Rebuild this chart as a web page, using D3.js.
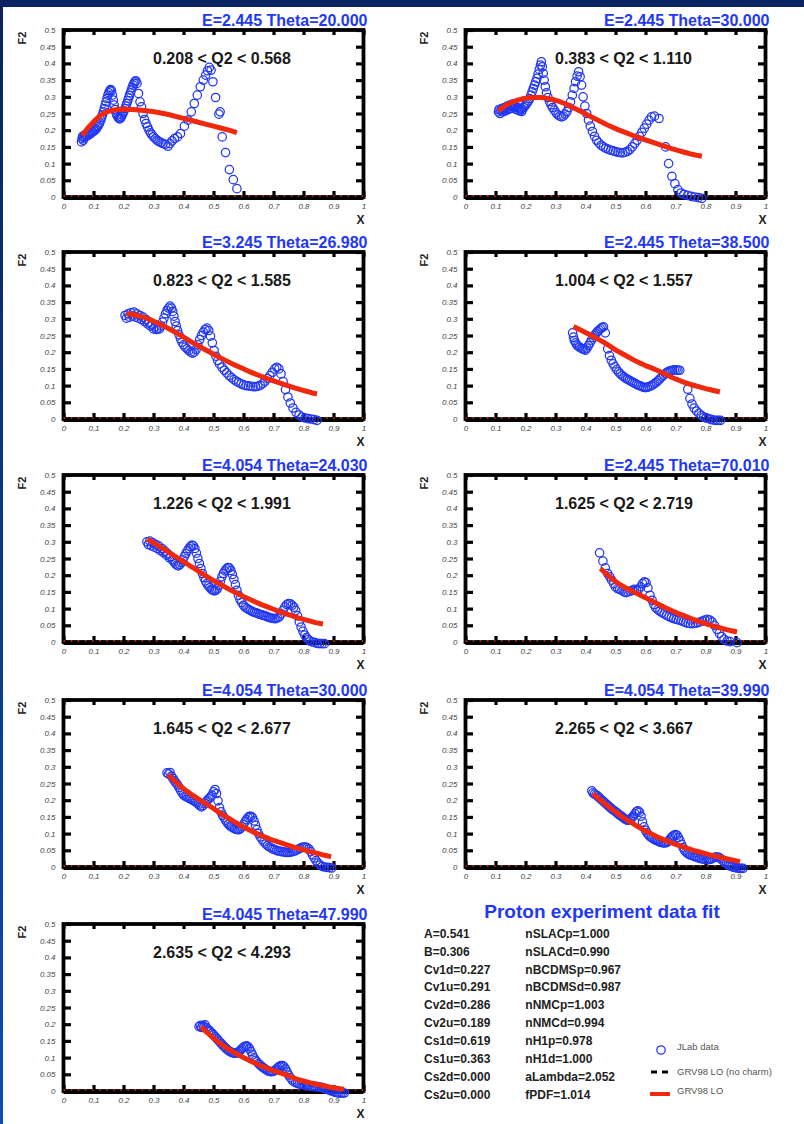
<!DOCTYPE html>
<html><head><meta charset="utf-8">
<script src="https://cdn.jsdelivr.net/npm/d3@7"></script>
<style>body{margin:0;background:#fff;overflow:hidden}</style>
</head><body>
<svg id="chart" width="804" height="1124"></svg>
<script>
// ---------- chart values ----------
const panelTitles = ["E=2.445 Theta=20.000","E=2.445 Theta=30.000","E=3.245 Theta=26.980","E=2.445 Theta=38.500","E=4.054 Theta=24.030","E=2.445 Theta=70.010","E=4.054 Theta=30.000","E=4.054 Theta=39.990","E=4.045 Theta=47.990"];
const q2Labels = ["0.208 < Q2 < 0.568","0.383 < Q2 < 1.110","0.823 < Q2 < 1.585","1.004 < Q2 < 1.557","1.226 < Q2 < 1.991","1.625 < Q2 < 2.719","1.645 < Q2 < 2.677","2.265 < Q2 < 3.667","2.635 < Q2 < 4.293"];
const xTicks = [0,0.1,0.2,0.3,0.4,0.5,0.6,0.7,0.8,0.9,1];
const xTickLabels = ["0","0.1","0.2","0.3","0.4","0.5","0.6","0.7","0.8","0.9","1"];
const yTicks = [0,0.05,0.1,0.15,0.2,0.25,0.3,0.35,0.4,0.45,0.5];
const yTickLabels = ["0","0.05","0.1","0.15","0.2","0.25","0.3","0.35","0.4","0.45","0.5"];
const noCharmLevel = [[0,0],[1,0]];

const jlab1 = [[0.060,0.165],[0.062,0.175],[0.064,0.182],[0.066,0.170],[0.068,0.178],[0.070,0.185],[0.073,0.180],[0.076,0.188],[0.079,0.183],[0.082,0.190],[0.085,0.186],[0.088,0.193],[0.091,0.190],[0.094,0.197],[0.097,0.195],[0.100,0.200],[0.103,0.198],[0.106,0.205],[0.109,0.203],[0.112,0.210],[0.115,0.212],[0.118,0.218],[0.121,0.222],[0.124,0.230],[0.127,0.238],[0.130,0.246],[0.133,0.255],[0.136,0.265],[0.139,0.275],[0.142,0.285],[0.145,0.295],[0.148,0.305],[0.151,0.312],[0.154,0.318],[0.157,0.322],[0.160,0.318],[0.163,0.305],[0.166,0.290],[0.169,0.275],[0.172,0.262],[0.175,0.252],[0.178,0.245],[0.181,0.240],[0.184,0.236],[0.187,0.234],[0.190,0.236],[0.193,0.240],[0.196,0.246],[0.199,0.252],[0.202,0.258],[0.205,0.265],[0.208,0.272],[0.211,0.280],[0.214,0.288],[0.217,0.296],[0.220,0.304],[0.223,0.312],[0.226,0.320],[0.229,0.328],[0.232,0.335],[0.235,0.340],[0.238,0.345],[0.241,0.348],[0.245,0.340],[0.250,0.310],[0.255,0.285],[0.260,0.270],[0.265,0.250],[0.270,0.232],[0.275,0.220],[0.280,0.210],[0.285,0.200],[0.290,0.192],[0.295,0.186],[0.300,0.180],[0.306,0.175],[0.312,0.170],[0.318,0.166],[0.325,0.163],[0.332,0.160],[0.340,0.158],[0.348,0.152],[0.355,0.160],[0.362,0.168],[0.370,0.175],[0.380,0.180],[0.390,0.190],[0.403,0.212],[0.415,0.230],[0.426,0.255],[0.436,0.280],[0.446,0.305],[0.456,0.330],[0.466,0.350],[0.474,0.365],[0.480,0.378],[0.486,0.388],[0.492,0.380],[0.498,0.345],[0.507,0.298],[0.518,0.248],[0.522,0.255],[0.529,0.180],[0.540,0.133],[0.553,0.082],[0.566,0.052],[0.578,0.025]];
const jlab2 = [[0.110,0.255],[0.112,0.262],[0.115,0.250],[0.118,0.258],[0.121,0.265],[0.124,0.255],[0.127,0.262],[0.130,0.268],[0.133,0.258],[0.136,0.265],[0.139,0.272],[0.142,0.262],[0.145,0.270],[0.148,0.275],[0.151,0.265],[0.154,0.272],[0.157,0.278],[0.160,0.268],[0.163,0.275],[0.166,0.270],[0.169,0.262],[0.172,0.268],[0.175,0.260],[0.178,0.266],[0.181,0.258],[0.184,0.264],[0.187,0.256],[0.190,0.262],[0.194,0.268],[0.198,0.272],[0.202,0.278],[0.206,0.282],[0.210,0.288],[0.214,0.295],[0.218,0.305],[0.222,0.315],[0.226,0.325],[0.230,0.335],[0.234,0.345],[0.238,0.355],[0.242,0.368],[0.246,0.382],[0.250,0.395],[0.253,0.405],[0.256,0.390],[0.259,0.370],[0.262,0.350],[0.266,0.330],[0.270,0.312],[0.275,0.298],[0.280,0.286],[0.285,0.276],[0.290,0.268],[0.296,0.260],[0.302,0.252],[0.308,0.246],[0.314,0.242],[0.320,0.240],[0.326,0.242],[0.332,0.248],[0.338,0.256],[0.344,0.268],[0.350,0.285],[0.356,0.305],[0.362,0.325],[0.367,0.345],[0.372,0.362],[0.377,0.375],[0.382,0.360],[0.387,0.335],[0.392,0.300],[0.398,0.272],[0.404,0.250],[0.410,0.230],[0.416,0.212],[0.423,0.196],[0.430,0.182],[0.437,0.170],[0.444,0.162],[0.452,0.155],[0.460,0.150],[0.468,0.146],[0.476,0.143],[0.484,0.140],[0.492,0.138],[0.500,0.136],[0.508,0.134],[0.516,0.133],[0.524,0.132],[0.532,0.134],[0.540,0.137],[0.548,0.142],[0.556,0.150],[0.564,0.160],[0.572,0.170],[0.580,0.182],[0.588,0.194],[0.596,0.206],[0.604,0.218],[0.612,0.230],[0.620,0.240],[0.630,0.242],[0.645,0.235],[0.667,0.150],[0.677,0.100],[0.688,0.062],[0.698,0.040],[0.708,0.022],[0.718,0.012],[0.728,0.008],[0.740,0.005],[0.752,0.002],[0.764,0.000],[0.776,-0.002],[0.788,-0.004]];
const jlab3 = [[0.205,0.310],[0.210,0.302],[0.215,0.315],[0.220,0.305],[0.225,0.318],[0.230,0.308],[0.235,0.320],[0.240,0.305],[0.245,0.315],[0.250,0.302],[0.255,0.310],[0.260,0.298],[0.265,0.305],[0.270,0.292],[0.275,0.298],[0.280,0.285],[0.285,0.290],[0.290,0.278],[0.295,0.282],[0.300,0.270],[0.305,0.275],[0.310,0.268],[0.315,0.272],[0.320,0.270],[0.325,0.278],[0.330,0.290],[0.335,0.302],[0.340,0.315],[0.345,0.325],[0.350,0.332],[0.355,0.338],[0.360,0.332],[0.364,0.322],[0.368,0.308],[0.372,0.292],[0.376,0.278],[0.380,0.265],[0.385,0.252],[0.390,0.240],[0.395,0.230],[0.400,0.222],[0.406,0.215],[0.412,0.210],[0.418,0.205],[0.424,0.200],[0.430,0.197],[0.436,0.200],[0.442,0.208],[0.448,0.222],[0.454,0.238],[0.460,0.250],[0.466,0.260],[0.472,0.268],[0.478,0.272],[0.484,0.265],[0.490,0.248],[0.496,0.228],[0.502,0.205],[0.508,0.188],[0.514,0.175],[0.520,0.165],[0.528,0.155],[0.536,0.146],[0.544,0.138],[0.552,0.130],[0.560,0.124],[0.568,0.118],[0.576,0.113],[0.584,0.109],[0.592,0.105],[0.600,0.102],[0.608,0.100],[0.616,0.099],[0.624,0.098],[0.632,0.097],[0.640,0.097],[0.648,0.098],[0.656,0.101],[0.664,0.106],[0.672,0.113],[0.680,0.121],[0.688,0.130],[0.696,0.140],[0.704,0.150],[0.711,0.155],[0.718,0.150],[0.725,0.135],[0.732,0.112],[0.740,0.088],[0.748,0.066],[0.756,0.048],[0.765,0.033],[0.775,0.020],[0.785,0.012],[0.795,0.006],[0.805,0.003],[0.815,0.001],[0.825,0.000],[0.835,-0.002],[0.845,-0.004]];
const jlab4 = [[0.357,0.258],[0.360,0.245],[0.363,0.235],[0.367,0.228],[0.371,0.222],[0.375,0.218],[0.380,0.215],[0.385,0.212],[0.390,0.210],[0.395,0.208],[0.400,0.206],[0.405,0.212],[0.410,0.220],[0.415,0.228],[0.420,0.236],[0.425,0.244],[0.430,0.250],[0.435,0.256],[0.440,0.262],[0.445,0.266],[0.450,0.270],[0.455,0.274],[0.460,0.276],[0.466,0.258],[0.474,0.210],[0.480,0.190],[0.486,0.176],[0.492,0.165],[0.498,0.156],[0.504,0.148],[0.510,0.141],[0.516,0.135],[0.522,0.130],[0.528,0.126],[0.534,0.122],[0.540,0.119],[0.546,0.116],[0.552,0.113],[0.558,0.110],[0.564,0.107],[0.570,0.104],[0.576,0.101],[0.582,0.099],[0.588,0.097],[0.594,0.095],[0.600,0.094],[0.606,0.095],[0.612,0.097],[0.618,0.099],[0.624,0.102],[0.630,0.106],[0.636,0.110],[0.642,0.115],[0.648,0.120],[0.654,0.126],[0.660,0.131],[0.666,0.136],[0.672,0.140],[0.678,0.143],[0.684,0.145],[0.690,0.146],[0.696,0.147],[0.702,0.147],[0.708,0.146],[0.714,0.146],[0.741,0.089],[0.748,0.062],[0.755,0.045],[0.762,0.033],[0.770,0.024],[0.778,0.017],[0.786,0.011],[0.794,0.006],[0.802,0.003],[0.810,0.001],[0.818,-0.001],[0.826,-0.003],[0.834,-0.004],[0.842,-0.004],[0.850,-0.004]];
const jlab5 = [[0.278,0.300],[0.283,0.292],[0.288,0.302],[0.293,0.288],[0.298,0.297],[0.303,0.284],[0.308,0.292],[0.313,0.280],[0.318,0.287],[0.323,0.274],[0.328,0.280],[0.333,0.268],[0.338,0.272],[0.343,0.260],[0.348,0.264],[0.353,0.252],[0.358,0.256],[0.363,0.246],[0.368,0.240],[0.373,0.234],[0.378,0.230],[0.383,0.228],[0.388,0.232],[0.393,0.238],[0.398,0.246],[0.403,0.256],[0.408,0.265],[0.413,0.273],[0.418,0.280],[0.423,0.286],[0.428,0.290],[0.433,0.288],[0.438,0.280],[0.443,0.266],[0.448,0.250],[0.453,0.235],[0.458,0.220],[0.463,0.205],[0.468,0.193],[0.473,0.183],[0.478,0.175],[0.483,0.168],[0.488,0.163],[0.493,0.158],[0.498,0.155],[0.503,0.153],[0.508,0.155],[0.513,0.160],[0.518,0.170],[0.523,0.182],[0.528,0.195],[0.533,0.205],[0.538,0.213],[0.543,0.219],[0.548,0.223],[0.553,0.222],[0.558,0.214],[0.563,0.202],[0.568,0.188],[0.573,0.172],[0.578,0.155],[0.583,0.140],[0.588,0.128],[0.594,0.118],[0.600,0.110],[0.606,0.104],[0.612,0.100],[0.618,0.097],[0.624,0.094],[0.630,0.091],[0.636,0.089],[0.642,0.087],[0.648,0.085],[0.654,0.083],[0.660,0.081],[0.666,0.080],[0.672,0.078],[0.678,0.076],[0.684,0.074],[0.690,0.072],[0.696,0.071],[0.702,0.070],[0.708,0.070],[0.714,0.072],[0.720,0.076],[0.726,0.084],[0.732,0.095],[0.738,0.105],[0.744,0.112],[0.750,0.115],[0.756,0.114],[0.762,0.110],[0.768,0.104],[0.774,0.094],[0.780,0.078],[0.786,0.060],[0.792,0.045],[0.798,0.032],[0.804,0.021],[0.810,0.013],[0.816,0.007],[0.822,0.003],[0.830,0.000],[0.838,-0.002],[0.846,-0.004],[0.854,-0.005],[0.862,-0.005],[0.870,-0.005]];
const jlab6 = [[0.447,0.267],[0.458,0.242],[0.466,0.222],[0.474,0.205],[0.481,0.195],[0.487,0.185],[0.494,0.175],[0.500,0.165],[0.507,0.160],[0.514,0.158],[0.521,0.155],[0.528,0.150],[0.535,0.148],[0.542,0.150],[0.549,0.152],[0.556,0.155],[0.563,0.158],[0.570,0.155],[0.577,0.158],[0.584,0.165],[0.590,0.175],[0.596,0.180],[0.602,0.178],[0.608,0.162],[0.615,0.140],[0.622,0.125],[0.628,0.112],[0.634,0.103],[0.641,0.097],[0.648,0.092],[0.655,0.088],[0.662,0.084],[0.670,0.080],[0.678,0.076],[0.686,0.073],[0.694,0.070],[0.702,0.068],[0.710,0.066],[0.718,0.064],[0.726,0.061],[0.734,0.058],[0.742,0.056],[0.750,0.055],[0.758,0.055],[0.766,0.056],[0.774,0.058],[0.782,0.060],[0.790,0.063],[0.798,0.066],[0.806,0.068],[0.814,0.066],[0.822,0.060],[0.830,0.050],[0.838,0.038],[0.846,0.026],[0.854,0.016],[0.862,0.008],[0.872,0.003],[0.882,0.001],[0.905,-0.002]];
const jlab7 = [[0.345,0.282],[0.350,0.278],[0.355,0.283],[0.360,0.272],[0.365,0.265],[0.370,0.258],[0.375,0.252],[0.380,0.246],[0.385,0.238],[0.390,0.230],[0.395,0.222],[0.400,0.216],[0.405,0.212],[0.410,0.210],[0.415,0.208],[0.420,0.205],[0.425,0.203],[0.430,0.200],[0.435,0.198],[0.440,0.195],[0.445,0.192],[0.450,0.188],[0.455,0.183],[0.460,0.180],[0.465,0.184],[0.470,0.190],[0.475,0.195],[0.480,0.200],[0.485,0.205],[0.490,0.210],[0.495,0.215],[0.500,0.225],[0.505,0.232],[0.510,0.220],[0.515,0.198],[0.520,0.178],[0.525,0.165],[0.530,0.155],[0.535,0.148],[0.540,0.140],[0.545,0.134],[0.550,0.128],[0.555,0.123],[0.560,0.120],[0.565,0.117],[0.570,0.115],[0.575,0.113],[0.580,0.112],[0.585,0.112],[0.590,0.115],[0.595,0.120],[0.600,0.127],[0.605,0.135],[0.610,0.142],[0.615,0.148],[0.620,0.152],[0.625,0.152],[0.630,0.148],[0.635,0.138],[0.640,0.125],[0.645,0.112],[0.650,0.100],[0.656,0.090],[0.662,0.082],[0.668,0.075],[0.674,0.069],[0.680,0.064],[0.686,0.060],[0.692,0.057],[0.698,0.054],[0.704,0.052],[0.710,0.050],[0.716,0.048],[0.722,0.047],[0.728,0.046],[0.734,0.045],[0.740,0.044],[0.746,0.044],[0.752,0.044],[0.758,0.045],[0.764,0.046],[0.770,0.048],[0.776,0.050],[0.782,0.053],[0.788,0.056],[0.794,0.058],[0.800,0.060],[0.806,0.060],[0.812,0.058],[0.818,0.054],[0.824,0.046],[0.830,0.036],[0.836,0.027],[0.842,0.019],[0.848,0.012],[0.855,0.006],[0.862,0.002],[0.870,0.000],[0.878,-0.001],[0.886,-0.002],[0.894,-0.003]];
const jlab8 = [[0.421,0.228],[0.425,0.222],[0.430,0.218],[0.435,0.215],[0.440,0.213],[0.445,0.208],[0.450,0.204],[0.455,0.200],[0.460,0.196],[0.465,0.192],[0.470,0.188],[0.475,0.184],[0.480,0.180],[0.485,0.176],[0.490,0.172],[0.495,0.169],[0.500,0.166],[0.505,0.162],[0.510,0.158],[0.515,0.155],[0.520,0.152],[0.525,0.148],[0.530,0.145],[0.535,0.142],[0.540,0.140],[0.545,0.141],[0.550,0.144],[0.555,0.148],[0.560,0.153],[0.565,0.160],[0.570,0.166],[0.575,0.168],[0.580,0.164],[0.585,0.152],[0.590,0.135],[0.595,0.120],[0.600,0.110],[0.605,0.102],[0.610,0.096],[0.615,0.091],[0.620,0.088],[0.625,0.085],[0.630,0.082],[0.635,0.080],[0.640,0.078],[0.645,0.076],[0.650,0.074],[0.655,0.073],[0.660,0.072],[0.665,0.072],[0.670,0.073],[0.675,0.076],[0.680,0.081],[0.685,0.087],[0.690,0.092],[0.695,0.095],[0.700,0.097],[0.705,0.095],[0.710,0.088],[0.715,0.078],[0.720,0.068],[0.725,0.058],[0.730,0.050],[0.735,0.045],[0.740,0.041],[0.745,0.038],[0.750,0.036],[0.756,0.034],[0.762,0.032],[0.768,0.030],[0.774,0.028],[0.780,0.026],[0.786,0.025],[0.792,0.024],[0.798,0.023],[0.804,0.022],[0.810,0.022],[0.816,0.023],[0.822,0.025],[0.828,0.028],[0.834,0.030],[0.840,0.030],[0.846,0.028],[0.852,0.024],[0.858,0.019],[0.864,0.014],[0.870,0.010],[0.876,0.006],[0.882,0.003],[0.888,0.001],[0.894,-0.001],[0.900,-0.002],[0.906,-0.003],[0.912,-0.004],[0.918,-0.004],[0.925,-0.004]];
const jlab9 = [[0.452,0.193],[0.456,0.196],[0.460,0.190],[0.464,0.197],[0.468,0.192],[0.472,0.198],[0.476,0.190],[0.480,0.186],[0.485,0.182],[0.490,0.178],[0.495,0.173],[0.500,0.168],[0.505,0.163],[0.510,0.158],[0.515,0.153],[0.520,0.148],[0.525,0.143],[0.530,0.138],[0.535,0.133],[0.540,0.129],[0.545,0.125],[0.550,0.121],[0.555,0.118],[0.560,0.116],[0.565,0.114],[0.570,0.113],[0.575,0.113],[0.580,0.115],[0.585,0.118],[0.590,0.122],[0.595,0.127],[0.600,0.131],[0.605,0.134],[0.610,0.135],[0.615,0.133],[0.620,0.127],[0.625,0.118],[0.630,0.108],[0.635,0.099],[0.640,0.092],[0.645,0.087],[0.650,0.082],[0.655,0.078],[0.660,0.074],[0.665,0.070],[0.670,0.067],[0.675,0.064],[0.680,0.061],[0.685,0.059],[0.690,0.058],[0.695,0.058],[0.700,0.059],[0.705,0.062],[0.710,0.066],[0.715,0.070],[0.720,0.074],[0.725,0.076],[0.730,0.076],[0.735,0.073],[0.740,0.066],[0.745,0.057],[0.750,0.048],[0.756,0.040],[0.762,0.033],[0.768,0.028],[0.774,0.025],[0.780,0.023],[0.786,0.021],[0.792,0.020],[0.798,0.019],[0.804,0.018],[0.810,0.017],[0.816,0.016],[0.822,0.015],[0.828,0.014],[0.834,0.014],[0.840,0.013],[0.846,0.013],[0.852,0.012],[0.858,0.011],[0.864,0.010],[0.870,0.008],[0.876,0.006],[0.882,0.004],[0.888,0.002],[0.894,0.000],[0.900,-0.002],[0.906,-0.004],[0.912,-0.005],[0.918,-0.006],[0.924,-0.006],[0.930,-0.006],[0.936,-0.006]];

const grv1 = [[0.062,0.184],[0.08,0.205],[0.10,0.225],[0.12,0.242],[0.14,0.253],[0.16,0.259],[0.18,0.262],[0.20,0.263],[0.23,0.262],[0.26,0.260],[0.29,0.257],[0.32,0.252],[0.35,0.247],[0.38,0.240],[0.41,0.233],[0.44,0.226],[0.47,0.219],[0.50,0.212],[0.53,0.205],[0.56,0.198],[0.578,0.193]];
const grv2 = [[0.110,0.258],[0.13,0.272],[0.15,0.282],[0.17,0.289],[0.19,0.294],[0.21,0.297],[0.23,0.298],[0.25,0.298],[0.27,0.296],[0.29,0.292],[0.31,0.287],[0.33,0.280],[0.35,0.272],[0.37,0.263],[0.39,0.254],[0.41,0.244],[0.43,0.235],[0.45,0.226],[0.47,0.217],[0.49,0.209],[0.51,0.201],[0.53,0.194],[0.55,0.187],[0.57,0.180],[0.59,0.174],[0.61,0.168],[0.63,0.162],[0.65,0.156],[0.67,0.150],[0.69,0.144],[0.71,0.139],[0.73,0.134],[0.75,0.129],[0.77,0.125],[0.788,0.122]];
const grv3 = [[0.21,0.316],[0.23,0.313],[0.25,0.309],[0.27,0.304],[0.29,0.297],[0.31,0.289],[0.33,0.280],[0.35,0.271],[0.37,0.261],[0.39,0.251],[0.41,0.240],[0.43,0.229],[0.45,0.219],[0.47,0.209],[0.49,0.199],[0.51,0.189],[0.53,0.180],[0.55,0.171],[0.57,0.162],[0.59,0.154],[0.61,0.146],[0.63,0.138],[0.65,0.131],[0.67,0.124],[0.69,0.117],[0.71,0.111],[0.73,0.105],[0.75,0.099],[0.77,0.093],[0.79,0.088],[0.81,0.083],[0.83,0.078],[0.845,0.075]];
const grv4 = [[0.36,0.277],[0.38,0.268],[0.40,0.259],[0.42,0.250],[0.44,0.240],[0.46,0.230],[0.48,0.219],[0.50,0.207],[0.52,0.197],[0.54,0.187],[0.56,0.177],[0.58,0.168],[0.60,0.160],[0.62,0.153],[0.64,0.145],[0.66,0.137],[0.68,0.128],[0.70,0.120],[0.72,0.113],[0.74,0.107],[0.76,0.101],[0.78,0.096],[0.80,0.091],[0.82,0.087],[0.848,0.081]];
const grv5 = [[0.28,0.308],[0.30,0.297],[0.32,0.286],[0.34,0.275],[0.36,0.263],[0.38,0.252],[0.40,0.241],[0.42,0.229],[0.44,0.218],[0.46,0.206],[0.48,0.195],[0.50,0.184],[0.52,0.174],[0.54,0.164],[0.56,0.154],[0.58,0.145],[0.60,0.136],[0.62,0.128],[0.64,0.120],[0.66,0.112],[0.68,0.105],[0.70,0.098],[0.72,0.091],[0.74,0.085],[0.76,0.079],[0.78,0.073],[0.80,0.068],[0.82,0.063],[0.84,0.058],[0.865,0.054]];
const grv6 = [[0.45,0.220],[0.47,0.203],[0.49,0.188],[0.51,0.175],[0.53,0.164],[0.55,0.155],[0.57,0.146],[0.59,0.137],[0.61,0.128],[0.63,0.119],[0.65,0.110],[0.67,0.101],[0.69,0.093],[0.71,0.085],[0.73,0.078],[0.75,0.071],[0.77,0.064],[0.79,0.058],[0.81,0.052],[0.83,0.047],[0.85,0.042],[0.87,0.037],[0.89,0.033],[0.905,0.030]];
const grv7 = [[0.348,0.277],[0.37,0.258],[0.39,0.242],[0.41,0.228],[0.43,0.215],[0.45,0.203],[0.47,0.192],[0.49,0.181],[0.51,0.169],[0.53,0.157],[0.55,0.146],[0.57,0.135],[0.59,0.125],[0.61,0.115],[0.63,0.106],[0.65,0.098],[0.67,0.090],[0.69,0.083],[0.71,0.077],[0.73,0.071],[0.75,0.065],[0.77,0.059],[0.79,0.054],[0.81,0.049],[0.83,0.044],[0.85,0.040],[0.87,0.035],[0.892,0.031]];
const grv8 = [[0.425,0.220],[0.44,0.208],[0.46,0.193],[0.48,0.179],[0.50,0.165],[0.52,0.152],[0.54,0.140],[0.56,0.129],[0.58,0.118],[0.60,0.108],[0.62,0.099],[0.64,0.090],[0.66,0.082],[0.68,0.075],[0.70,0.068],[0.72,0.062],[0.74,0.056],[0.76,0.050],[0.78,0.045],[0.80,0.040],[0.82,0.035],[0.84,0.031],[0.86,0.027],[0.88,0.023],[0.90,0.019],[0.915,0.016]];
const grv9 = [[0.458,0.192],[0.48,0.174],[0.50,0.158],[0.52,0.144],[0.54,0.131],[0.56,0.120],[0.58,0.110],[0.60,0.100],[0.62,0.091],[0.64,0.083],[0.66,0.075],[0.68,0.068],[0.70,0.061],[0.72,0.055],[0.74,0.049],[0.76,0.042],[0.78,0.035],[0.80,0.030],[0.82,0.025],[0.84,0.021],[0.86,0.017],[0.88,0.013],[0.90,0.010],[0.92,0.007],[0.935,0.005]];

const paramNames = ["A","B","Cv1d","Cv1u","Cv2d","Cv2u","Cs1d","Cs1u","Cs2d","Cs2u"];
const paramValues = ["0.541","0.306","0.227","0.291","0.286","0.189","0.619","0.363","0.000","0.000"];
const normNames = ["nSLACp","nSLACd","nBCDMSp","nBCDMSd","nNMCp","nNMCd","nH1p","nH1d","aLambda","fPDF"];
const normValues = ["1.000","0.990","0.967","0.987","1.003","0.994","0.978","1.000","2.052","1.014"];
const legendLabels = ["JLab data","GRV98 LO (no charm)","GRV98 LO"];
const fitTitle = "Proton experiment data fit";

const jlabSets = [jlab1,jlab2,jlab3,jlab4,jlab5,jlab6,jlab7,jlab8,jlab9];
const grvSets = [grv1,grv2,grv3,grv4,grv5,grv6,grv7,grv8,grv9];

// ---------- layout / style ----------
const FONT = "'Liberation Sans', Arial, Helvetica, sans-serif";
const BLUE = "#2238f5";
const RED = "#f0280c";
const colX = [63.5, 465.5];
const rowTop = [30, 252, 475, 700, 924];
const PW = 300, PH = 167;

const svg = d3.select("#chart");
const defs = svg.append("defs");
const grad = defs.append("linearGradient").attr("id","lg").attr("x1",0).attr("y1",0).attr("x2",0).attr("y2",1);
grad.append("stop").attr("offset","0%").attr("stop-color","#0b2360");
grad.append("stop").attr("offset","100%").attr("stop-color","#0a4db4");
svg.append("rect").attr("x",0).attr("y",0).attr("width",804).attr("height",1124).attr("fill","#fff");
svg.append("rect").attr("x",0).attr("y",0).attr("width",3).attr("height",1124).attr("fill","url(#lg)");
svg.append("rect").attr("x",0).attr("y",0).attr("width",804).attr("height",7).attr("fill","#0b2360");

function panel(i){
  const x0 = colX[i % 2], top = rowTop[Math.floor(i / 2)];
  const x = d3.scaleLinear().domain([0,1]).range([x0, x0 + PW]);
  const y = d3.scaleLinear().domain([0,0.5]).range([top + PH, top]);
  const g = svg.append("g");

  const styleAxis = sel => {
    sel.select(".domain").remove();
    sel.selectAll(".tick line").attr("stroke","#000").attr("stroke-width",3.2);
    sel.selectAll(".tick text").attr("fill","#444").attr("font-style","italic")
      .attr("font-family",FONT).attr("font-size",8);
  };
  g.append("g").attr("transform",`translate(${x0},0)`)
    .call(d3.axisLeft(y).tickValues(yTicks).tickSize(-7.5).tickPadding(8).tickFormat((d,k)=>yTickLabels[k]))
    .call(styleAxis);
  g.append("g").attr("transform",`translate(${x0+PW},0)`)
    .call(d3.axisRight(y).tickValues(yTicks).tickSize(-7.5).tickFormat(""))
    .call(styleAxis);
  g.append("g").attr("transform",`translate(0,${top})`)
    .call(d3.axisTop(x).tickValues(xTicks).tickSize(-5).tickFormat(""))
    .call(styleAxis);
  g.append("g").attr("transform",`translate(0,${top+PH})`)
    .call(d3.axisBottom(x).tickValues(xTicks).tickSize(-6).tickPadding(6).tickFormat((d,k)=>xTickLabels[k]))
    .call(styleAxis);

  g.append("rect").attr("x",x0).attr("y",top).attr("width",PW).attr("height",PH)
    .attr("fill","none").attr("stroke","#000").attr("stroke-width",3.8);

  const line = d3.line().x(d=>x(d[0])).y(d=>y(d[1]));
  g.append("path").datum(noCharmLevel).attr("d",line).attr("transform","translate(0,1.5)")
    .attr("stroke","#000").attr("stroke-width",3).attr("fill","none");
  g.append("path").datum(noCharmLevel).attr("d",line).attr("transform","translate(0,-1)")
    .attr("stroke",RED).attr("stroke-width",1.6).attr("stroke-dasharray","1.6,5.5").attr("fill","none");

  g.append("g").selectAll("circle").data(jlabSets[i]).join("circle")
    .attr("cx",d=>x(d[0])).attr("cy",d=>y(d[1])).attr("r",4.2)
    .attr("fill","none").attr("stroke",BLUE).attr("stroke-width",1.25);

  g.append("path").datum(grvSets[i]).attr("d",line)
    .attr("stroke",RED).attr("stroke-width",5).attr("fill","none").attr("stroke-linejoin","round");

  g.append("text").attr("x",x0+304).attr("y",top-4).attr("text-anchor","end")
    .attr("font-family",FONT).attr("font-weight","bold").attr("font-size",16).attr("fill",BLUE)
    .text(panelTitles[i]);
  g.append("text").attr("x",x0+89.5).attr("y",top+34)
    .attr("font-family",FONT).attr("font-weight","bold").attr("font-size",16).attr("fill","#1a1a1a")
    .text(q2Labels[i]);
  g.append("text").attr("transform",`translate(${x0-37.5},${top+8}) rotate(-90)`).attr("text-anchor","middle")
    .attr("font-family",FONT).attr("font-weight","bold").attr("font-size",11).attr("fill","#222")
    .text("F2");
  g.append("text").attr("x",x0+297).attr("y",top+194).attr("text-anchor","middle")
    .attr("font-family",FONT).attr("font-weight","bold").attr("font-size",12).attr("fill","#222")
    .text("X");
}
for (let i = 0; i < 9; i++) panel(i);

svg.append("text").attr("x",602).attr("y",918).attr("text-anchor","middle")
  .attr("font-family",FONT).attr("font-weight","bold").attr("font-size",19).attr("fill",BLUE)
  .text(fitTitle);
const pg = svg.append("g").attr("font-family",FONT).attr("font-weight","bold").attr("font-size",12).attr("fill","#222");
paramNames.forEach((n,k)=>{
  pg.append("text").attr("x",424).attr("y",937.7 + 17.9*k).text(n + "=" + paramValues[k]);
  pg.append("text").attr("x",525.3).attr("y",937.7 + 17.9*k).text(normNames[k] + "=" + normValues[k]);
});

const lg = svg.append("g");
lg.append("circle").attr("cx",661).attr("cy",1050).attr("r",4.2).attr("fill","none").attr("stroke",BLUE).attr("stroke-width",1.25);
lg.append("line").attr("x1",651).attr("x2",671).attr("y1",1072).attr("y2",1072)
  .attr("stroke","#000").attr("stroke-width",3).attr("stroke-dasharray","6,5");
lg.append("line").attr("x1",650).attr("x2",670).attr("y1",1094).attr("y2",1094)
  .attr("stroke",RED).attr("stroke-width",4);
[1049.5, 1075, 1094].forEach((yy,k)=>{
  lg.append("text").attr("x",677).attr("y",yy).attr("font-family",FONT).attr("font-size",9.5).attr("fill","#555")
    .text(legendLabels[k]);
});
</script>
</body></html>
